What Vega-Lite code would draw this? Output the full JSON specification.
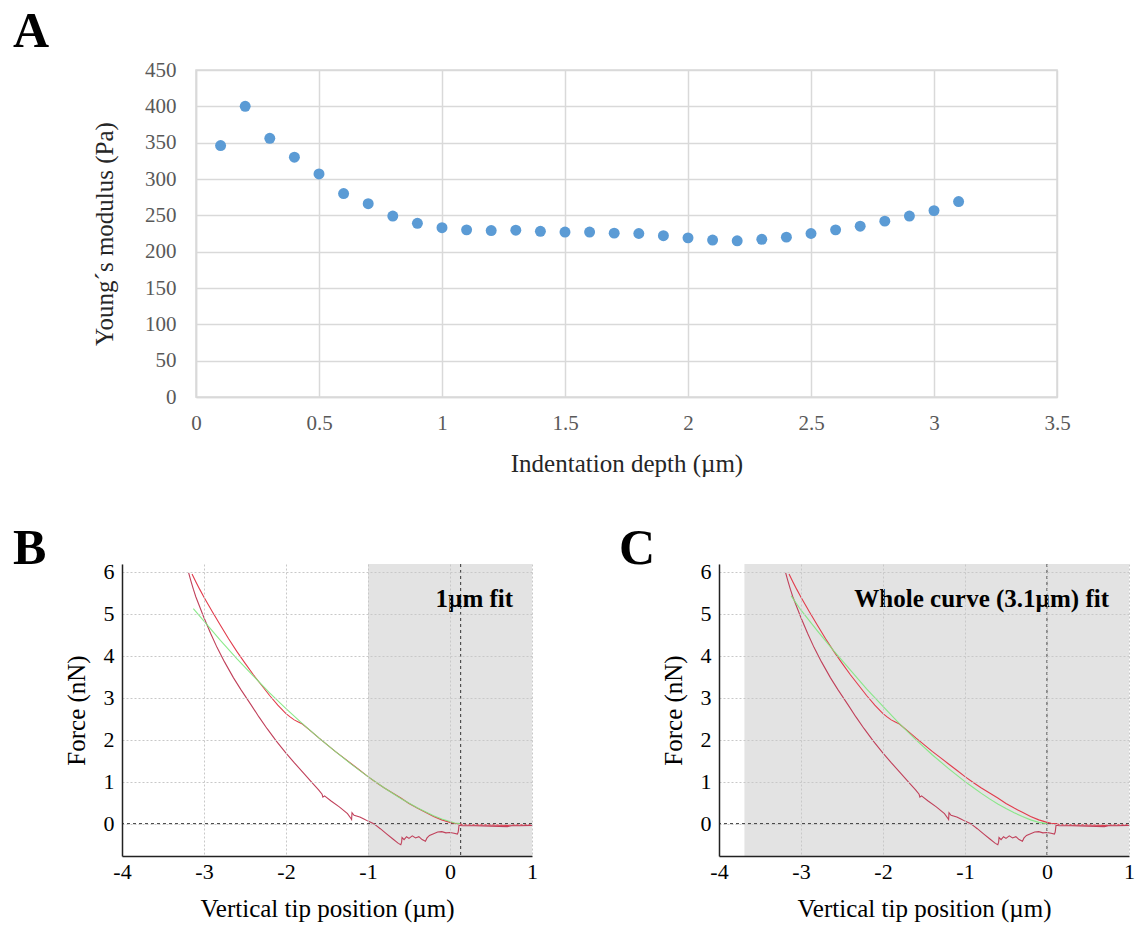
{
  "$schema": "https://vega.github.io/schema/vega-lite/v6.json",
  "padding": {"left": 12, "top": 6, "right": 4, "bottom": 4},
  "background": "white",
  "config": {"font": "Liberation Serif", "view": {"stroke": null}},
  "spacing": 46,
  "datasets": {
    "modulus": [
      {"depth": 0.1, "E": 346}, {"depth": 0.2, "E": 400}, {"depth": 0.3, "E": 356}, {"depth": 0.4, "E": 330},
      {"depth": 0.5, "E": 307}, {"depth": 0.6, "E": 280}, {"depth": 0.7, "E": 266}, {"depth": 0.8, "E": 249},
      {"depth": 0.9, "E": 239}, {"depth": 1.0, "E": 233}, {"depth": 1.1, "E": 230}, {"depth": 1.2, "E": 229},
      {"depth": 1.3, "E": 229.5}, {"depth": 1.4, "E": 228}, {"depth": 1.5, "E": 227}, {"depth": 1.6, "E": 227},
      {"depth": 1.7, "E": 225.5}, {"depth": 1.8, "E": 225}, {"depth": 1.9, "E": 222}, {"depth": 2.0, "E": 219},
      {"depth": 2.1, "E": 216}, {"depth": 2.2, "E": 215}, {"depth": 2.3, "E": 217}, {"depth": 2.4, "E": 220},
      {"depth": 2.5, "E": 225}, {"depth": 2.6, "E": 230}, {"depth": 2.7, "E": 235}, {"depth": 2.8, "E": 242},
      {"depth": 2.9, "E": 249}, {"depth": 3.0, "E": 256.5}, {"depth": 3.1, "E": 269}
    ],
    "curves": [
      {"s": "approach", "x": -3.146, "f": 5.94}, {"s": "approach", "x": -3.1, "f": 5.76},
      {"s": "approach", "x": -3.05, "f": 5.57}, {"s": "approach", "x": -3.0, "f": 5.39},
      {"s": "approach", "x": -2.9, "f": 5.05}, {"s": "approach", "x": -2.8, "f": 4.72},
      {"s": "approach", "x": -2.7, "f": 4.4}, {"s": "approach", "x": -2.6, "f": 4.1},
      {"s": "approach", "x": -2.5, "f": 3.82}, {"s": "approach", "x": -2.4, "f": 3.55},
      {"s": "approach", "x": -2.3, "f": 3.3}, {"s": "approach", "x": -2.2, "f": 3.05},
      {"s": "approach", "x": -2.1, "f": 2.82}, {"s": "approach", "x": -2.0, "f": 2.62},
      {"s": "approach", "x": -1.95, "f": 2.54}, {"s": "approach", "x": -1.9, "f": 2.47},
      {"s": "approach", "x": -1.85, "f": 2.42}, {"s": "approach", "x": -1.8, "f": 2.37},
      {"s": "approach", "x": -1.7, "f": 2.21}, {"s": "approach", "x": -1.6, "f": 2.04},
      {"s": "approach", "x": -1.5, "f": 1.88}, {"s": "approach", "x": -1.4, "f": 1.72},
      {"s": "approach", "x": -1.3, "f": 1.57}, {"s": "approach", "x": -1.2, "f": 1.42},
      {"s": "approach", "x": -1.1, "f": 1.27}, {"s": "approach", "x": -1.0, "f": 1.12},
      {"s": "approach", "x": -0.9, "f": 0.98}, {"s": "approach", "x": -0.8, "f": 0.85},
      {"s": "approach", "x": -0.7, "f": 0.73}, {"s": "approach", "x": -0.6, "f": 0.61},
      {"s": "approach", "x": -0.5, "f": 0.48}, {"s": "approach", "x": -0.4, "f": 0.37},
      {"s": "approach", "x": -0.3, "f": 0.27}, {"s": "approach", "x": -0.2, "f": 0.17},
      {"s": "approach", "x": -0.1, "f": 0.09}, {"s": "approach", "x": 0.0, "f": 0.03},
      {"s": "approach", "x": 0.05, "f": 0.01}, {"s": "approach", "x": 0.1, "f": 0.0},
      {"s": "approach", "x": 0.15, "f": -0.02}, {"s": "approach", "x": 0.3, "f": -0.03},
      {"s": "approach", "x": 0.5, "f": -0.03}, {"s": "approach", "x": 0.7, "f": -0.04},
      {"s": "approach", "x": 0.8, "f": -0.03}, {"s": "approach", "x": 1.0, "f": -0.03},
      {"s": "retract", "x": -3.187, "f": 5.97}, {"s": "retract", "x": -3.16, "f": 5.78},
      {"s": "retract", "x": -3.13, "f": 5.58}, {"s": "retract", "x": -3.1, "f": 5.4},
      {"s": "retract", "x": -3.05, "f": 5.15}, {"s": "retract", "x": -3.0, "f": 4.9},
      {"s": "retract", "x": -2.92, "f": 4.53}, {"s": "retract", "x": -2.84, "f": 4.19},
      {"s": "retract", "x": -2.75, "f": 3.85}, {"s": "retract", "x": -2.64, "f": 3.47},
      {"s": "retract", "x": -2.55, "f": 3.19}, {"s": "retract", "x": -2.43, "f": 2.84},
      {"s": "retract", "x": -2.33, "f": 2.54}, {"s": "retract", "x": -2.23, "f": 2.26},
      {"s": "retract", "x": -2.12, "f": 1.97}, {"s": "retract", "x": -2.0, "f": 1.68},
      {"s": "retract", "x": -1.9, "f": 1.45}, {"s": "retract", "x": -1.78, "f": 1.19},
      {"s": "retract", "x": -1.68, "f": 0.97}, {"s": "retract", "x": -1.6, "f": 0.8},
      {"s": "retract", "x": -1.56, "f": 0.7}, {"s": "retract", "x": -1.55, "f": 0.63},
      {"s": "retract", "x": -1.53, "f": 0.66}, {"s": "retract", "x": -1.45, "f": 0.54},
      {"s": "retract", "x": -1.35, "f": 0.4}, {"s": "retract", "x": -1.25, "f": 0.24},
      {"s": "retract", "x": -1.21, "f": 0.13}, {"s": "retract", "x": -1.2, "f": 0.1},
      {"s": "retract", "x": -1.195, "f": 0.26}, {"s": "retract", "x": -1.17, "f": 0.2},
      {"s": "retract", "x": -1.1, "f": 0.16}, {"s": "retract", "x": -1.05, "f": 0.11},
      {"s": "retract", "x": -1.0, "f": 0.06}, {"s": "retract", "x": -0.93, "f": 0.0},
      {"s": "retract", "x": -0.85, "f": -0.12}, {"s": "retract", "x": -0.77, "f": -0.25},
      {"s": "retract", "x": -0.7, "f": -0.36}, {"s": "retract", "x": -0.63, "f": -0.47},
      {"s": "retract", "x": -0.6, "f": -0.5}, {"s": "retract", "x": -0.59, "f": -0.44},
      {"s": "retract", "x": -0.585, "f": -0.33}, {"s": "retract", "x": -0.56, "f": -0.38},
      {"s": "retract", "x": -0.53, "f": -0.31}, {"s": "retract", "x": -0.5, "f": -0.35},
      {"s": "retract", "x": -0.46, "f": -0.29}, {"s": "retract", "x": -0.42, "f": -0.34},
      {"s": "retract", "x": -0.38, "f": -0.31}, {"s": "retract", "x": -0.34, "f": -0.38},
      {"s": "retract", "x": -0.3, "f": -0.42}, {"s": "retract", "x": -0.28, "f": -0.34},
      {"s": "retract", "x": -0.25, "f": -0.28}, {"s": "retract", "x": -0.2, "f": -0.24},
      {"s": "retract", "x": -0.15, "f": -0.2}, {"s": "retract", "x": -0.1, "f": -0.19},
      {"s": "retract", "x": -0.05, "f": -0.22}, {"s": "retract", "x": 0.0, "f": -0.21},
      {"s": "retract", "x": 0.05, "f": -0.23}, {"s": "retract", "x": 0.09, "f": -0.25},
      {"s": "retract", "x": 0.1, "f": -0.2}, {"s": "retract", "x": 0.11, "f": -0.04},
      {"s": "retract", "x": 0.15, "f": -0.05}, {"s": "retract", "x": 0.3, "f": -0.05},
      {"s": "retract", "x": 0.5, "f": -0.06}, {"s": "retract", "x": 0.7, "f": -0.07},
      {"s": "retract", "x": 0.75, "f": -0.05}, {"s": "retract", "x": 0.85, "f": -0.05},
      {"s": "retract", "x": 1.0, "f": -0.04}
    ],
    "fitB": [
      {"x": -3.13, "f": 5.12}, {"x": -3.0, "f": 4.82}, {"x": -2.8, "f": 4.36}, {"x": -2.6, "f": 3.93},
      {"x": -2.4, "f": 3.52}, {"x": -2.2, "f": 3.11}, {"x": -2.0, "f": 2.74}, {"x": -1.8, "f": 2.38},
      {"x": -1.6, "f": 2.04}, {"x": -1.4, "f": 1.72}, {"x": -1.2, "f": 1.41}, {"x": -1.0, "f": 1.12},
      {"x": -0.8, "f": 0.85}, {"x": -0.6, "f": 0.6}, {"x": -0.4, "f": 0.38}, {"x": -0.2, "f": 0.19},
      {"x": -0.1, "f": 0.11}, {"x": 0.0, "f": 0.05}, {"x": 0.06, "f": 0.015}, {"x": 0.12, "f": 0.0}
    ],
    "fitC": [
      {"x": -3.12, "f": 5.42}, {"x": -3.0, "f": 5.08}, {"x": -2.8, "f": 4.59}, {"x": -2.6, "f": 4.11},
      {"x": -2.4, "f": 3.66}, {"x": -2.2, "f": 3.21}, {"x": -2.0, "f": 2.79}, {"x": -1.8, "f": 2.38},
      {"x": -1.6, "f": 2.0}, {"x": -1.4, "f": 1.64}, {"x": -1.2, "f": 1.31}, {"x": -1.0, "f": 1.0},
      {"x": -0.9, "f": 0.86}, {"x": -0.8, "f": 0.72}, {"x": -0.7, "f": 0.59}, {"x": -0.6, "f": 0.47},
      {"x": -0.5, "f": 0.36}, {"x": -0.4, "f": 0.26}, {"x": -0.3, "f": 0.17}, {"x": -0.2, "f": 0.09},
      {"x": -0.1, "f": 0.03}, {"x": 0.0, "f": 0.0}
    ]
  },
  "vconcat": [
    {
      "bounds": "flush",
      "spacing": 0,
      "hconcat": [
        {
          "width": 74,
          "height": 10,
          "data": {"values": [{}]},
          "mark": {"type": "point", "opacity": 0},
          "encoding": {}
        },
        {
          "width": 861,
          "height": 327,
          "view": {"stroke": "#d9d9d9", "strokeWidth": 1.5},
          "title": {"text": "A", "anchor": "start", "frame": "group", "font": "Liberation Serif", "fontSize": 50, "fontWeight": "bold", "color": "black", "baseline": "alphabetic", "offset": 0, "dy": 38, "dx": -183},
          "data": {"name": "modulus"},
          "mark": {"type": "circle", "size": 120, "color": "#5b9bd5", "opacity": 1},
          "encoding": {
            "x": {"field": "depth", "type": "quantitative",
              "scale": {"domain": [0, 3.5], "nice": false, "zero": false},
              "axis": {"values": [0, 0.5, 1, 1.5, 2, 2.5, 3, 3.5], "labelExpr": "'' + datum.value", "title": "Indentation depth (µm)",
                "grid": true, "gridColor": "#d9d9d9", "gridWidth": 1.5, "domainColor": "#d9d9d9", "domainWidth": 1.5,
                "ticks": false, "tickSize": 0, "labelPadding": 15, "labelFontSize": 21, "labelColor": "#595959",
                "labelFont": "Liberation Serif", "titleFont": "Liberation Serif", "titleFontSize": 25, "titleFontWeight": "normal",
                "titleColor": "#262626", "titlePadding": 18, "labelFlush": false}},
            "y": {"field": "E", "type": "quantitative",
              "scale": {"domain": [0, 450], "nice": false},
              "axis": {"values": [0, 50, 100, 150, 200, 250, 300, 350, 400, 450], "title": "Young´s modulus (Pa)",
                "grid": true, "gridColor": "#d9d9d9", "gridWidth": 1.5, "domainColor": "#d9d9d9", "domainWidth": 1.5,
                "ticks": false, "tickSize": 0, "labelPadding": 20, "labelFontSize": 21, "labelColor": "#595959",
                "labelFont": "Liberation Serif", "titleFont": "Liberation Serif", "titleFontSize": 25, "titleFontWeight": "normal",
                "titleColor": "#262626", "titlePadding": 27}}
          }
        }
      ]
    },
    {
      "spacing": 81,
      "hconcat": [
        {
          "width": 410,
          "height": 292,
          "title": {"text": "B", "anchor": "start", "frame": "group", "font": "Liberation Serif", "fontSize": 50, "fontWeight": "bold", "color": "black", "baseline": "alphabetic", "offset": 0, "dy": 53, "dx": -109},
          "layer": [
            {"data": {"values": [{}]},
             "mark": {"type": "rect", "color": "#e3e3e3"},
             "encoding": {"x": {"datum": -1, "type": "quantitative", "scale": {"domain": [-4, 1], "nice": false, "zero": false},
                "axis": {"values": [-4, -3, -2, -1, 0, 1], "labelExpr": "'' + datum.value", "title": "Vertical tip position (µm)",
                  "zindex": 1, "grid": true, "gridColor": "#c8c8c8", "gridDash": [2, 2], "gridWidth": 1,
                  "domainColor": "#222222", "domainWidth": 1.5, "ticks": false, "tickSize": 0, "labelPadding": 5,
                  "labelFontSize": 22, "labelColor": "black", "labelFlush": false, "titleFontSize": 25, "titleFontWeight": "normal",
                  "titleColor": "black", "titlePadding": 14}},
                "x2": {"datum": 1}}},
            {"data": {"values": [{}]},
             "mark": {"type": "rule", "color": "#333333", "strokeDash": [3, 3], "strokeWidth": 1},
             "encoding": {"y": {"datum": 0, "type": "quantitative", "scale": {"domain": [-0.77, 6.18], "nice": false, "zero": false},
                "axis": {"values": [0, 1, 2, 3, 4, 5, 6], "title": "Force (nN)", "zindex": 1,
                  "grid": true, "gridColor": "#c8c8c8", "gridDash": [2, 2], "gridWidth": 1,
                  "domainColor": "#222222", "domainWidth": 1.5, "ticks": false, "tickSize": 0, "labelPadding": 8,
                  "labelFontSize": 22, "labelColor": "black", "titleFontSize": 25, "titleFontWeight": "normal",
                  "titleColor": "black", "titlePadding": 14}}}},
            {"data": {"values": [{}]},
             "mark": {"type": "rule", "color": "#333333", "strokeDash": [3, 3], "strokeWidth": 1},
             "encoding": {"x": {"datum": 0.13}}},
            {"data": {"name": "curves"},
             "mark": {"type": "line", "strokeWidth": 1.1},
             "encoding": {"x": {"field": "x", "type": "quantitative"}, "y": {"field": "f", "type": "quantitative"},
               "color": {"field": "s", "type": "nominal", "scale": {"domain": ["approach", "retract"], "range": ["#e23c4c", "#c0405a"]}, "legend": null}}},
            {"data": {"name": "fitB"},
             "mark": {"type": "line", "strokeWidth": 1.1, "color": "#7ee87e", "opacity": 0.9},
             "encoding": {"x": {"field": "x", "type": "quantitative"}, "y": {"field": "f", "type": "quantitative"}}},
            {"data": {"values": [{}]},
             "mark": {"type": "text", "text": "1µm fit", "font": "Liberation Serif", "fontSize": 25, "fontWeight": "bold", "align": "right", "baseline": "alphabetic", "color": "black"},
             "encoding": {"x": {"datum": 0.77}, "y": {"datum": 5.16}}}
          ]
        },
        {
          "width": 410,
          "height": 292,
          "title": {"text": "C", "anchor": "start", "frame": "group", "font": "Liberation Serif", "fontSize": 50, "fontWeight": "bold", "color": "black", "baseline": "alphabetic", "offset": 0, "dy": 53, "dx": -100},
          "layer": [
            {"data": {"values": [{}]},
             "mark": {"type": "rect", "color": "#e3e3e3"},
             "encoding": {"x": {"datum": -3.69, "type": "quantitative", "scale": {"domain": [-4, 1], "nice": false, "zero": false},
                "axis": {"values": [-4, -3, -2, -1, 0, 1], "labelExpr": "'' + datum.value", "title": "Vertical tip position (µm)",
                  "zindex": 1, "grid": true, "gridColor": "#c8c8c8", "gridDash": [2, 2], "gridWidth": 1,
                  "domainColor": "#222222", "domainWidth": 1.5, "ticks": false, "tickSize": 0, "labelPadding": 5,
                  "labelFontSize": 22, "labelColor": "black", "labelFlush": false, "titleFontSize": 25, "titleFontWeight": "normal",
                  "titleColor": "black", "titlePadding": 14}},
                "x2": {"datum": 1}}},
            {"data": {"values": [{}]},
             "mark": {"type": "rule", "color": "#333333", "strokeDash": [3, 3], "strokeWidth": 1},
             "encoding": {"y": {"datum": 0, "type": "quantitative", "scale": {"domain": [-0.77, 6.18], "nice": false, "zero": false},
                "axis": {"values": [0, 1, 2, 3, 4, 5, 6], "title": "Force (nN)", "zindex": 1,
                  "grid": true, "gridColor": "#c8c8c8", "gridDash": [2, 2], "gridWidth": 1,
                  "domainColor": "#222222", "domainWidth": 1.5, "ticks": false, "tickSize": 0, "labelPadding": 8,
                  "labelFontSize": 22, "labelColor": "black", "titleFontSize": 25, "titleFontWeight": "normal",
                  "titleColor": "black", "titlePadding": 14}}}},
            {"data": {"values": [{}]},
             "mark": {"type": "rule", "color": "#333333", "strokeDash": [3, 3], "strokeWidth": 1},
             "encoding": {"x": {"datum": 0.0}}},
            {"data": {"name": "curves"},
             "mark": {"type": "line", "strokeWidth": 1.1},
             "encoding": {"x": {"field": "x", "type": "quantitative"}, "y": {"field": "f", "type": "quantitative"},
               "color": {"field": "s", "type": "nominal", "scale": {"domain": ["approach", "retract"], "range": ["#e23c4c", "#c0405a"]}, "legend": null}}},
            {"data": {"name": "fitC"},
             "mark": {"type": "line", "strokeWidth": 1.1, "color": "#7ee87e", "opacity": 0.9},
             "encoding": {"x": {"field": "x", "type": "quantitative"}, "y": {"field": "f", "type": "quantitative"}}},
            {"data": {"values": [{}]},
             "mark": {"type": "text", "text": "Whole curve (3.1µm) fit", "font": "Liberation Serif", "fontSize": 25, "fontWeight": "bold", "align": "right", "baseline": "alphabetic", "color": "black"},
             "encoding": {"x": {"datum": 0.756}, "y": {"datum": 5.16}}}
          ]
        }
      ]
    }
  ]
}
